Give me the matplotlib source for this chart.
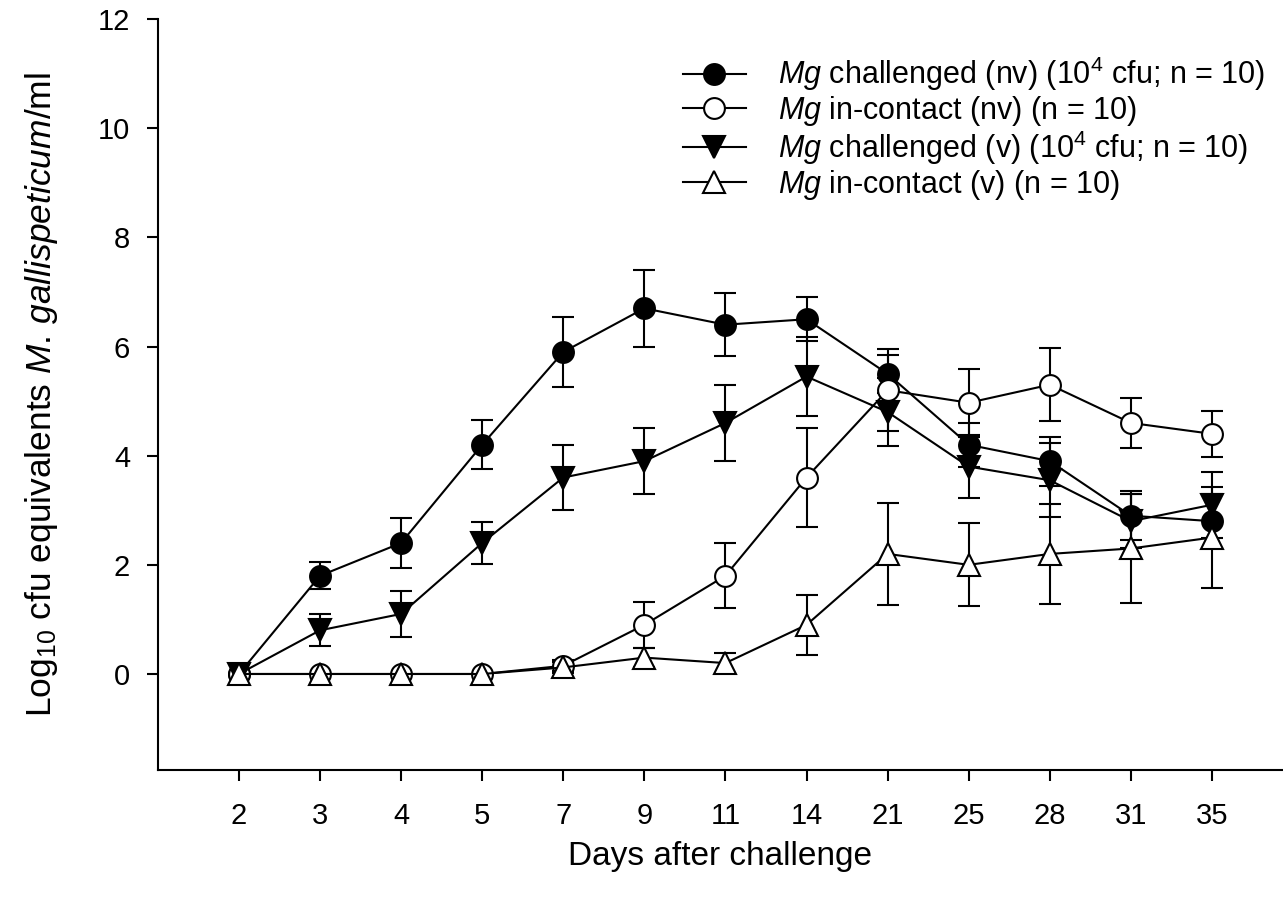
import numpy as np
import matplotlib
matplotlib.use("Agg")
import matplotlib.pyplot as plt

plt.rcParams['font.family'] = ['Liberation Sans', 'DejaVu Sans']
plt.rcParams['mathtext.fontset'] = 'custom'
plt.rcParams['mathtext.rm'] = 'Liberation Sans'
plt.rcParams['mathtext.it'] = 'Liberation Sans:italic'

# Data
days = ['2', '3', '4', '5', '7', '9', '11', '14', '21', '25', '28', '31', '35']

chall_nv = [0, 1.8, 2.4, 4.2, 5.9, 6.7, 6.4, 6.5, 5.5, 4.2, 3.9, 2.9, 2.8]
chall_nv_err = [0, 0.25, 0.45, 0.45, 0.64, 0.71, 0.58, 0.40, 0.35, 0.40, 0.45, 0.45, 0.50]

contact_nv = [0, 0, 0, 0, 0.15, 0.9, 1.8, 3.6, 5.2, 4.97, 5.3, 4.6, 4.4]
contact_nv_err = [0, 0, 0, 0, 0.10, 0.42, 0.60, 0.90, 0.75, 0.62, 0.67, 0.46, 0.42]

chall_v = [0, 0.8, 1.1, 2.4, 3.6, 3.9, 4.6, 5.45, 4.8, 3.8, 3.55, 2.8, 3.1]
chall_v_err = [0, 0.29, 0.42, 0.38, 0.60, 0.60, 0.70, 0.72, 0.62, 0.58, 0.68, 0.50, 0.60]

contact_v = [0, 0, 0, 0, 0.12, 0.3, 0.2, 0.9, 2.2, 2.0, 2.2, 2.3, 2.5]
contact_v_err = [0, 0, 0, 0, 0.10, 0.18, 0.19, 0.55, 0.93, 0.76, 0.92, 1.00, 0.92]

labels = [r'$\it{Mg}$ challenged (nv) (10$^4$ cfu; n = 10)',
          r'$\it{Mg}$ in-contact (nv) (n = 10)',
          r'$\it{Mg}$ challenged (v) (10$^4$ cfu; n = 10)',
          r'$\it{Mg}$ in-contact (v) (n = 10)']

x = np.arange(len(days))

fig = plt.figure(figsize=(12.83, 9), dpi=100)
ax = fig.add_axes([0.123, 0.1444, 0.877, 0.8344])

series = [
    (chall_nv, chall_nv_err, 'o', 'black', 15),
    (contact_nv, contact_nv_err, 'o', 'white', 15),
    (chall_v, chall_v_err, 'v', 'black', 16),
    (contact_v, contact_v_err, '^', 'white', 16),
]

handles = []
for (vals, errs, mk, fc, ms), lab in zip(series, labels):
    c = ax.errorbar(x, vals, yerr=errs, fmt='-', marker=mk, color='black',
                    mfc=fc, mec='black', ms=ms, mew=1.5, lw=1.5,
                    elinewidth=1.5, capsize=8, capthick=1.5, label=lab)
    handles.append(c[0])

ax.set_xlim(-1, 12.876)
ax.set_ylim(-1.76, 12)
ax.set_xticks(x)
ax.set_xticklabels(days)
ax.set_yticks([0, 2, 4, 6, 8, 10, 12])
ax.tick_params(direction='out', length=8, width=1.5, labelsize=21)
ax.tick_params(axis='x', pad=15)
ax.tick_params(axis='y', pad=12)

ax.spines['top'].set_visible(False)
ax.spines['right'].set_visible(False)
ax.spines['left'].set_linewidth(1.5)
ax.spines['bottom'].set_linewidth(1.5)

ax.set_xlabel('Days after challenge', fontsize=24, labelpad=8)
ax.set_ylabel(r'Log$_{10}$ cfu equivalents $\it{M.}\,\it{gallispeticum}$/ml',
              fontsize=25.5, labelpad=27)

ax.legend(handles=handles, labels=labels, loc='upper left',
          bbox_to_anchor=(0.4667, 0.952), frameon=False, fontsize=22,
          handlelength=2.05, handletextpad=1.05, labelspacing=0.02,
          borderaxespad=0, borderpad=0)

fig.savefig('out.png', dpi=100)
